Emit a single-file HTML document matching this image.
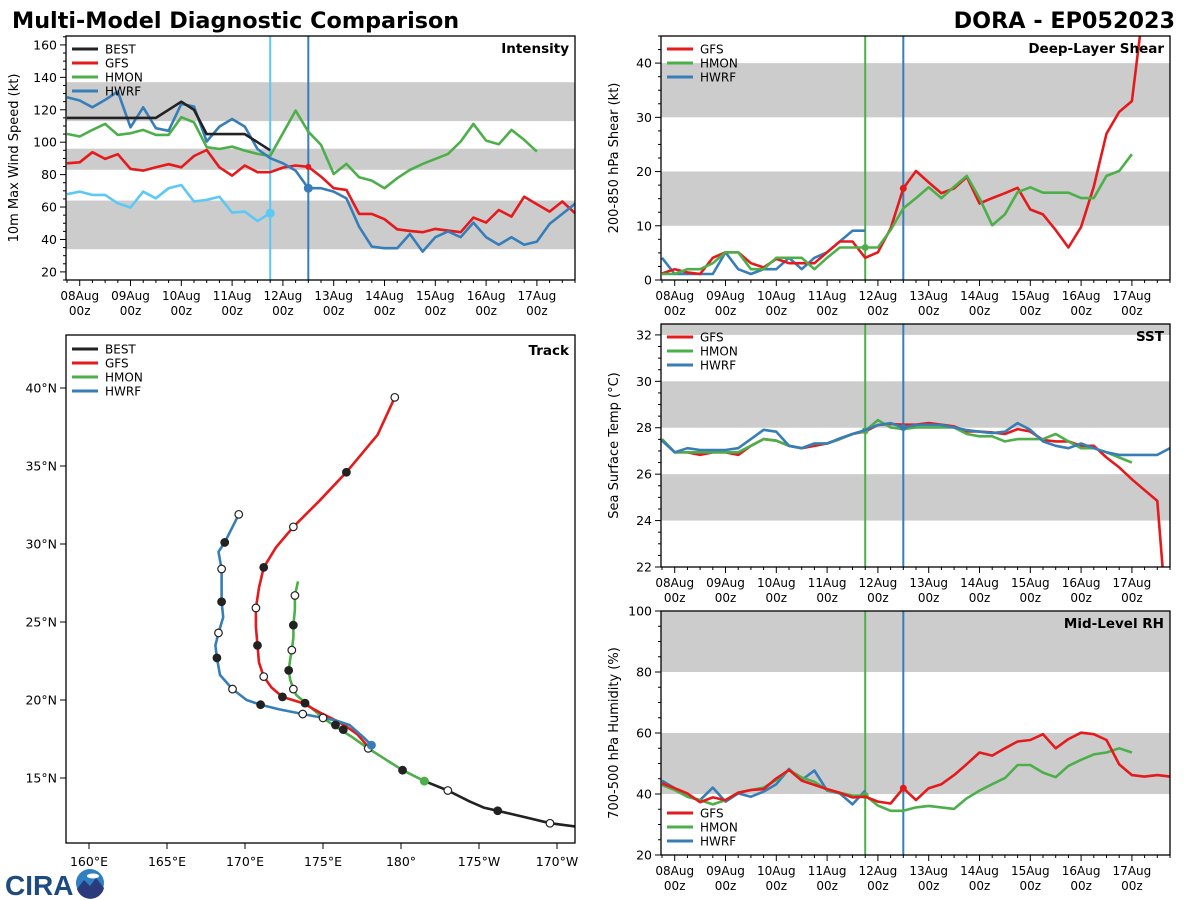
<!DOCTYPE html>
<html><head><meta charset="utf-8">
<style>
html,body{margin:0;padding:0;background:#fff;}
svg{display:block;font-family:"DejaVu Sans","Liberation Sans",sans-serif;}
</style></head>
<body>
<svg id="fig" width="1200" height="900" viewBox="0 0 1200 900" xmlns="http://www.w3.org/2000/svg">
<text x="12" y="28" font-size="22.3" font-weight="bold" fill="#000">Multi-Model Diagnostic Comparison</text>
<text x="1175" y="28" font-size="22.3" font-weight="bold" fill="#000" text-anchor="end">DORA - EP052023</text>
<g>
<text x="5" y="895" font-size="28" font-weight="bold" fill="#1d4a80" font-family="Liberation Sans, sans-serif">CIRA</text>
<circle cx="90" cy="883" r="14" fill="#2f7fc1"/>
<path d="M77 889 L84 880 L90 886 L96 878 L104 888 A14 14 0 0 1 77 889 Z" fill="#2a3a7a"/>
<ellipse cx="93" cy="876" rx="6" ry="2.5" fill="#fff"/>
</g>
</svg>
<script>
// ===== Data =====
const timeStart = -0.25, timeStep = 0.25;
const dayLabels = ['08Aug','09Aug','10Aug','11Aug','12Aug','13Aug','14Aug','15Aug','16Aug','17Aug'];

const intBEST = [115,115,115,115,115,115,115,115,120,125,120,105,105,105,105,100,95];
const intGFS = [87,87.6,93.8,89.7,92.6,83.5,82.5,84.5,86.4,84.5,91.5,95.2,84.5,79.4,85.6,81.5,81.5,84.3,85.6,84.8,78.8,71.6,70.6,55.8,55.8,52.5,46.3,45.3,44.5,46.5,45.5,44.5,53.5,50.4,58.2,54.1,66.4,61.7,57.2,63.4,56.2];
const intHMON = [105.1,103.5,107.6,111.3,104.5,105.5,107.6,104.5,104.5,115.4,112.3,96.9,95.8,97.3,94.8,92.8,91.5,105.5,119.5,106.5,98.3,80.4,86.6,78.4,76.3,71.6,77.8,82.9,86.6,89.7,92.8,100.4,111.3,101,98.7,107.6,101.4,94.2];
const intHWRF = [127.7,125.7,121.5,126.1,131.2,109.2,121.5,108.6,107,123.6,122,100.4,109.6,114.3,109.6,95.8,90.1,87,82.5,71.6,71.6,69.5,65.4,47.9,35.6,34.6,34.6,43.4,32.5,41.4,44.9,41.4,50.4,41.4,36.7,41.4,36.7,38.7,49.6,55.8,62];
const intHWRFprev = [67.9,69.5,67.5,67.5,62.3,59.7,69.5,65.4,71.6,73.6,63.4,64.4,66.4,56.6,57.2,51.4,56.2];

const shrGFS = [1.2,2.0,1.4,1.1,4.1,5.1,5.1,3.1,2.3,3.9,3.1,3.1,3.1,5.1,7.1,7.1,4.1,5.1,9.5,16.9,20.1,18,16,16.9,19,14.1,15.1,16,17,13,12.1,9.2,6,9.8,17.2,27,31,33,52,58,60];
const shrHMON = [1.1,1.1,2.0,2.0,3.1,5.1,5.1,2.0,2.0,4.1,4.1,4.1,2.0,4.1,6.0,6.0,6.0,6.0,9.2,13.2,15.1,17.1,15.1,17.2,19.2,15.1,10.1,12.1,16.2,17.1,16.1,16.1,16.1,15.1,15.1,19.2,20.1,23.2];
const shrHWRF = [4.1,1.1,1.1,1.1,1.1,5.1,2.0,1.1,2.0,2.0,4.1,2.0,4.1,5.1,7.1,9.1,9.1];

const sstGFS = [27.51,26.94,26.94,26.83,26.94,26.94,26.83,27.22,27.51,27.44,27.22,27.12,27.22,27.32,27.51,27.73,27.84,28.12,28.16,28.13,28.13,28.2,28.13,28.06,27.84,27.84,27.8,27.73,27.94,27.84,27.47,27.41,27.41,27.22,27.22,26.72,26.29,25.78,25.31,24.85,18];
const sstHMON = [27.51,26.94,26.94,26.94,26.94,26.94,26.94,27.22,27.51,27.44,27.22,27.12,27.32,27.32,27.51,27.73,27.87,28.33,28.01,27.94,28.01,28.01,28.01,28.01,27.73,27.63,27.63,27.41,27.51,27.51,27.51,27.73,27.41,27.12,27.12,26.94,26.72,26.5];
const sstHWRF = [27.44,26.94,27.12,27.04,27.04,27.04,27.12,27.51,27.91,27.83,27.22,27.12,27.32,27.32,27.54,27.73,27.9,28.12,28.2,28.01,28.12,28.13,28.12,28.01,27.9,27.83,27.77,27.83,28.2,27.91,27.41,27.22,27.12,27.32,27.12,26.94,26.83,26.83,26.83,26.83,27.12];

const rhGFS = [43.5,41.9,40.2,37.3,38.9,38.0,40.4,41.3,41.6,45.1,47.9,44.4,43.0,41.6,40.4,38.9,39.1,37.5,36.9,41.9,38.0,41.9,43.2,46.2,49.8,53.6,52.6,55.0,57.2,57.7,59.6,55.0,58.0,60.1,59.6,57.7,49.7,46.2,45.7,46.2,45.7];
const rhHMON = [43.0,41.3,39.1,38.0,36.6,38.0,40.5,41.3,42.1,44.6,47.9,45.4,44.0,41.3,40.4,39.5,39.5,36.2,34.5,34.5,35.6,36.1,35.6,35.1,38.6,41.1,43.2,45.2,49.5,49.5,47.0,45.5,49.2,51.2,53.0,53.6,55.0,53.6];
const rhHWRF = [44.4,41.9,39.1,38.0,42.1,37.5,40.2,39.1,40.8,43.2,48.2,44.6,47.7,41.1,40.2,36.6,41.1];

const trkBESTlon = [192.8,191.15,189.55,187.9,186.2,185.3,184.4,183.0,181.5];
const trkBESTlat = [11.7,11.9,12.1,12.5,12.9,13.1,13.5,14.2,14.8];
const trkHMONlon = [181.5,180.1,179.0,177.9,176.9,175.8,175.0,173.9,173.3,173.1,172.9,172.8,172.9,173.0,173.1,173.1,173.2,173.2,173.4];
const trkHMONlat = [14.8,15.5,16.2,16.9,17.6,18.3,18.85,19.8,20.3,20.7,21.3,21.9,22.6,23.2,24.0,24.8,25.8,26.7,27.6];
const trkGFSlon = [177.9,177.2,176.5,175.8,174.8,173.7,172.4,171.7,171.2,170.9,170.8,170.7,170.7,170.9,171.2,172.0,173.1,174.8,176.5,178.5,179.6];
const trkGFSlat = [17.0,17.8,18.3,18.7,19.2,19.8,20.2,20.8,21.5,22.4,23.5,24.7,25.9,27.2,28.5,29.8,31.1,32.8,34.6,37.0,39.4];
const trkHWRFlon = [178.1,177.6,176.7,175.8,175.0,173.7,172.2,171.0,170.1,169.2,168.4,168.2,168.1,168.3,168.6,168.5,168.5,168.5,168.3,168.7,169.6];
const trkHWRFlat = [17.1,17.6,18.4,18.7,18.85,19.1,19.4,19.7,20.0,20.7,21.6,22.7,23.5,24.3,25.3,26.3,27.4,28.4,29.5,30.1,31.9];
const mkBESTlon = [189.55,186.2,183.0]; const mkBESTlat=[12.1,12.9,14.2]; const mkBESTfill=[0,1,0];
const mkHMONlon = [180.1,177.9,176.3,175.8,175.0,173.85,173.1,172.8,173.0,173.1,173.2];
const mkHMONlat = [15.5,16.9,18.1,18.4,18.85,19.8,20.7,21.9,23.2,24.8,26.7];
const mkHMONfill = [1,0,1,1,0,1,0,1,0,1,0];
const mkGFSlon = [172.4,171.2,170.8,170.7,171.2,173.1,176.5,179.6];
const mkGFSlat = [20.2,21.5,23.5,25.9,28.5,31.1,34.6,39.4];
const mkGFSfill = [1,0,1,0,1,0,1,0];
const mkHWRFlon = [173.7,171.0,169.2,168.2,168.3,168.5,168.5,168.7,169.6];
const mkHWRFlat = [19.1,19.7,20.7,22.7,24.3,26.3,28.4,30.1,31.9];
const mkHWRFfill = [0,1,0,1,0,1,0,1,0];
const latTicks = [15,20,25,30,35,40];
const lonTicks = [160,165,170,175,180,185,190];
const lonTickLabels = ['160°E','165°E','170°E','175°E','180°','175°W','170°W'];

// ===== Drawing =====
const NS='http://www.w3.org/2000/svg';
const svg=document.getElementById('fig');
const C={GFS:'#e41a1c',HMON:'#4daf4a',HWRF:'#377eb8',BEST:'#222222',PREV:'#5bc8f5'};
function mk(tag,attrs,parent){const e=document.createElementNS(NS,tag);for(const k in attrs)e.setAttribute(k,attrs[k]);(parent||svg).appendChild(e);return e;}
let clipId=0;

function timePanel(p){
  const g=mk('g',{});
  
  
  const tmin=-0.27,tmax=9.75;
  const X=t=>p.x0+(t-tmin)/(tmax-tmin)*p.w;
  const Y=v=>p.y0+p.h-(v-p.ymin)/(p.ymax-p.ymin)*p.h;
  const cid='c'+(clipId++);
  const cp=mk('clipPath',{id:cid},g);mk('rect',{x:p.x0,y:p.y0,width:p.w,height:p.h},cp);
  const inner=mk('g',{'clip-path':'url(#'+cid+')'},g);
  p.bands.forEach(b=>{const r=mk('rect',{x:p.x0,y:Y(b[1]),width:p.w,height:Y(b[0])-Y(b[1]),fill:'#cccccc'},inner);
    });
  p.vlines.forEach(v=>{const l=mk('line',{x1:X(v[0]),x2:X(v[0]),y1:p.y0,y2:p.y0+p.h,stroke:v[1],'stroke-width':2},inner);
    });
  p.series.forEach(s=>{
    const pts=s.data.map((v,i)=>X(timeStart+i*timeStep).toFixed(1)+','+Y(v).toFixed(1)).join(' ');
    const pl=mk('polyline',{points:pts,fill:'none',stroke:s.color,'stroke-width':2.6,'stroke-linejoin':'round'},inner);
    
    if(s.dot!=null){const i=Math.round((s.dot-timeStart)/timeStep);
      const c=mk('circle',{cx:X(s.dot),cy:Y(s.data[i]),r:s.dotr||4.5,fill:s.color},inner);
      }
  });
  const fr=mk('rect',{x:p.x0,y:p.y0,width:p.w,height:p.h,fill:'none',stroke:'#000','stroke-width':1.3},g);
  
  for(let v=Math.ceil(p.ymin/p.minor)*p.minor;v<=p.ymax+1e-6;v+=p.minor){
    const major=Math.abs(v/p.major-Math.round(v/p.major))<1e-6;
    mk('line',{x1:p.x0,x2:p.x0-(major?6:3),y1:Y(v),y2:Y(v),stroke:'#000','stroke-width':1},g);
    if(major){const t=mk('text',{x:p.x0-9,y:Y(v)+4.5,'font-size':12.5,'text-anchor':'end',fill:'#000'},g);t.textContent=String(Math.round(v));
      }
  }
  for(let t=-0.25;t<=9.75;t+=0.25){
    const major=Math.abs(t-Math.round(t))<1e-6;
    mk('line',{x1:X(t),x2:X(t),y1:p.y0+p.h,y2:p.y0+p.h+(major?6:3),stroke:'#000','stroke-width':1},g);
  }
  dayLabels.forEach((d,i)=>{
    const t1=mk('text',{x:X(i),y:p.y0+p.h+20,'font-size':12,'text-anchor':'middle',fill:'#000'},g);t1.textContent=d;
    
    const t2=mk('text',{x:X(i),y:p.y0+p.h+35,'font-size':12,'text-anchor':'middle',fill:'#000'},g);t2.textContent='00z';
    
  });
  const yl=mk('text',{x:0,y:0,'font-size':13,'text-anchor':'middle',fill:'#000',transform:'translate('+(p.x0-p.ylabOff)+','+(p.y0+p.h/2)+') rotate(-90)'},g);
  yl.textContent=p.ylabel;
  const tt=mk('text',{x:p.x0+p.w-6,y:p.y0+17,'font-size':13.5,'font-weight':'bold','text-anchor':'end',fill:'#000'},g);
  tt.textContent=p.title;
  legend(g,p.x0+6,p.legendY,p.legend);
}
function legend(g,x,y,items){
  items.forEach((it,i)=>{
    const l=mk('line',{x1:x,x2:x+26,y1:y+i*14,y2:y+i*14,stroke:it[1],'stroke-width':3},g);
    
    const t=mk('text',{x:x+33,y:y+i*14+4.5,'font-size':12,fill:'#000'},g);t.textContent=it[0];
    
  });
}
const L3=[['GFS',C.GFS],['HMON',C.HMON],['HWRF',C.HWRF]];

timePanel({name:'intensity-panel',x0:66,y0:36,w:509,h:244,ymin:15,ymax:165.5,major:20,minor:5,ylabOff:48,
  bands:[[34,64],[83,96],[113,137]],vlines:[[3.75,C.PREV],[4.5,C.HWRF]],
  series:[{id:'hmon',data:intHMON,color:C.HMON},{id:'gfs',data:intGFS,color:C.GFS,dot:4.5,dotr:3},
    {id:'hwrf',data:intHWRF,color:C.HWRF,dot:4.5},{id:'hwrf-previous',data:intHWRFprev,color:C.PREV,dot:3.75},
    {id:'best',data:intBEST,color:C.BEST}],
  ylabel:'10m Max Wind Speed (kt)',title:'Intensity',legendY:49,legend:[['BEST',C.BEST]].concat(L3)});
timePanel({name:'shear-panel',x0:661,y0:36,w:509,h:244,ymin:0,ymax:45,major:10,minor:2.5,ylabOff:43,
  bands:[[10,20],[30,40]],vlines:[[3.75,C.HMON],[4.5,C.HWRF]],
  series:[{id:'hwrf',data:shrHWRF,color:C.HWRF},{id:'gfs',data:shrGFS,color:C.GFS,dot:4.5,dotr:3.5},{id:'hmon',data:shrHMON,color:C.HMON,dot:3.75,dotr:3.5}],
  ylabel:'200-850 hPa Shear (kt)',title:'Deep-Layer Shear',legendY:49,legend:L3});
timePanel({name:'sst-panel',x0:661,y0:324,w:509,h:243,ymin:22,ymax:32.47,major:2,minor:0.5,ylabOff:43,
  bands:[[24,26],[28,30],[32,34]],vlines:[[3.75,C.HMON],[4.5,C.HWRF]],
  series:[{id:'gfs',data:sstGFS,color:C.GFS},{id:'hmon',data:sstHMON,color:C.HMON,dot:3.75,dotr:3.5},{id:'hwrf',data:sstHWRF,color:C.HWRF,dot:4.5,dotr:3.5}],
  ylabel:'Sea Surface Temp (°C)',title:'SST',legendY:337,legend:L3});
timePanel({name:'rh-panel',x0:661,y0:611,w:509,h:244,ymin:20,ymax:100,major:20,minor:5,ylabOff:43,
  bands:[[40,60],[80,100]],vlines:[[3.75,C.HMON],[4.5,C.HWRF]],
  series:[{id:'hwrf',data:rhHWRF,color:C.HWRF},{id:'hmon',data:rhHMON,color:C.HMON,dot:3.75,dotr:3.5},{id:'gfs',data:rhGFS,color:C.GFS,dot:4.5,dotr:3.5}],
  ylabel:'700-500 hPa Humidity (%)',title:'Mid-Level RH',legendY:813,legend:L3});

// ===== Track panel =====
(function(){
  const x0=66,y0=335,w=509,h=508;
  const g=mk('g',{});
  const LX=lon=>89+(lon-160)*15.6, LY=lat=>388-(lat-40)*15.6;
  const cp=mk('clipPath',{id:'trkclip'},g);mk('rect',{x:x0,y:y0,width:w,height:h},cp);
  const inner=mk('g',{'clip-path':'url(#trkclip)'},g);
  function track(id,lons,lats,color){
    const pts=lons.map((v,i)=>LX(v).toFixed(1)+','+LY(lats[i]).toFixed(1)).join(' ');
    const pl=mk('polyline',{points:pts,fill:'none',stroke:color,'stroke-width':2.6,'stroke-linejoin':'round'},inner);
    
  }
  function marks(id,lons,lats,fills){
    lons.forEach((v,i)=>{const c=mk('circle',{cx:LX(v),cy:LY(lats[i]),r:3.8,fill:fills[i]?'#222':'#fff',stroke:'#222','stroke-width':1.2},inner);
      });
  }
  track('best',trkBESTlon,trkBESTlat,C.BEST);
  track('hmon',trkHMONlon,trkHMONlat,C.HMON);
  track('gfs',trkGFSlon,trkGFSlat,C.GFS);
  track('hwrf',trkHWRFlon,trkHWRFlat,C.HWRF);
  marks('best',mkBESTlon,mkBESTlat,mkBESTfill);
  marks('hmon',mkHMONlon,mkHMONlat,mkHMONfill);
  marks('gfs',mkGFSlon,mkGFSlat,mkGFSfill);
  marks('hwrf',mkHWRFlon,mkHWRFlat,mkHWRFfill);
  const d1=mk('circle',{cx:LX(trkHMONlon[0]),cy:LY(trkHMONlat[0]),r:4.5,fill:C.HMON},inner);
  
  const d2=mk('circle',{cx:LX(trkHWRFlon[0]),cy:LY(trkHWRFlat[0]),r:4.5,fill:C.HWRF},inner);
  
  const fr=mk('rect',{x:x0,y:y0,width:w,height:h,fill:'none',stroke:'#000','stroke-width':1.3},g);
  
  latTicks.forEach(v=>{mk('line',{x1:x0,x2:x0-6,y1:LY(v),y2:LY(v),stroke:'#000'},g);
    const t=mk('text',{x:x0-9,y:LY(v)+4.5,'font-size':12.5,'text-anchor':'end',fill:'#000'},g);t.textContent=v+'°N';
    });
  lonTicks.forEach((v,i)=>{mk('line',{x1:LX(v),x2:LX(v),y1:y0+h,y2:y0+h+6,stroke:'#000'},g);
    const t=mk('text',{x:LX(v),y:y0+h+23,'font-size':12.5,'text-anchor':'middle',fill:'#000'},g);t.textContent=lonTickLabels[i];
    });
  const tt=mk('text',{x:x0+w-6,y:y0+20,'font-size':13.5,'font-weight':'bold','text-anchor':'end',fill:'#000'},g);
  tt.textContent='Track';
  legend(g,x0+6,y0+14,[['BEST',C.BEST]].concat(L3));
})();
</script>
</body></html>
